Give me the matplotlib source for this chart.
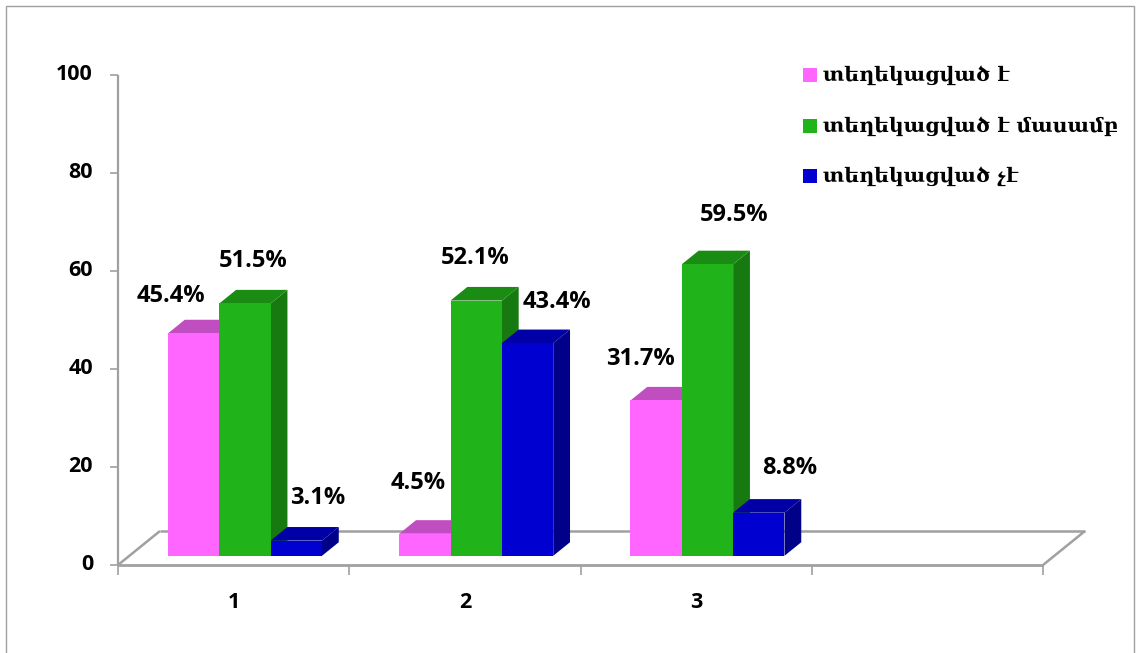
import matplotlib
matplotlib.use("Agg")
import matplotlib.pyplot as plt
from matplotlib.patches import Polygon, Rectangle
from matplotlib.lines import Line2D

# ---- data ----
categories = ["1", "2", "3"]
series_names = ["տեղեկացված է", "տեղեկացված է մասամբ", "տեղեկացված չէ"]
informed = [45.4, 4.5, 31.7]
partly = [51.5, 52.1, 59.5]
not_informed = [3.1, 43.4, 8.8]
y_ticks = [0, 20, 40, 60, 80, 100]

series_values = [informed, partly, not_informed]

# ---- styling ----
W, H, DPI = 1136, 653, 100
front_cols = ["#FF66FF", "#20B41A", "#0000D0"]
top_cols = ["#C04EC0", "#1A8C14", "#0000A6"]
side_cols = ["#C04EC0", "#167A10", "#000088"]
grid_gray = "#A0A0A0"
n_slots = 4              # category slots on the axis (last one empty)
bar_w = 0.222            # bar width in category units
label_font = "Open Sans"

# label nudges in pixels (dx, dy) from the centre of each bar's front top
label_nudge = [
    [(-23, 37), (8, 42), (21, 43)],
    [(-7, 51), (-1, 43), (29, 41)],
    [(-16, 41), (27, 49), (31, 45)],
]

fig = plt.figure(figsize=(W / DPI, H / DPI), dpi=DPI)
fig.patch.set_facecolor("white")

# axes plane = front edge of the floor
ax_l, ax_r, ax_b, ax_t = 118, 1043, 565, 75
ax = fig.add_axes([ax_l / W, 1 - ax_b / H, (ax_r - ax_l) / W, (ax_b - ax_t) / H])
ax.set_xlim(0, n_slots)
ax.set_ylim(0, 100)
ax.axis("off")

PX = n_slots / (ax_r - ax_l)   # data units per pixel, x
PY = 100 / (ax_b - ax_t)       # data units per pixel, y
Dx, Dy = 42 * PX, 34 * PY      # floor depth
f0, f1 = 0.27, 0.67            # bar depth range (fraction of floor depth)

def line(xs, ys, lw=1.8, z=1):
    ax.add_line(Line2D(xs, ys, color=grid_gray, lw=lw, zorder=z,
                       clip_on=False, solid_capstyle="butt"))

# floor outline
line([Dx, n_slots + Dx], [Dy, Dy], z=1)
line([0, Dx], [0, Dy], z=1)
line([n_slots, n_slots + Dx], [0, Dy], z=1)
line([0, n_slots], [0, 0], lw=2.0, z=1)

# value axis
line([0, 0], [0, 100], lw=1.6, z=1)
for t in y_ticks:
    line([-8 * PX, 0], [t, t], lw=1.2, z=1)
    ax.text(-25 * PX, t, str(t), ha="right", va="center", fontsize=15.5,
            fontweight="bold", family=label_font, color="black")

# category axis ticks
for k in range(n_slots + 1):
    line([k, k], [0, -10 * PY], lw=1.2, z=1)
for k, c in enumerate(categories):
    ax.text(k + 0.5, -37 * PY, c, ha="center", va="center", fontsize=15.5,
            fontweight="bold", family=label_font, color="black")

# 3D bars
base = f0 * Dy
bdx, bdy = (f1 - f0) * Dx, (f1 - f0) * Dy
z = 3
for k in range(len(categories)):
    for s, vals in enumerate(series_values):
        v = vals[k]
        xl = k + 0.5 + (s - 1.5) * bar_w + f0 * Dx
        xr = xl + bar_w
        top = base + v
        side = Polygon([(xr, base), (xr + bdx, base + bdy),
                        (xr + bdx, top + bdy), (xr, top)],
                       closed=True, facecolor=side_cols[s], edgecolor="none",
                       zorder=z, clip_on=False)
        cap = Polygon([(xl, top), (xr, top), (xr + bdx, top + bdy),
                       (xl + bdx, top + bdy)],
                      closed=True, facecolor=top_cols[s], edgecolor="none",
                      zorder=z, clip_on=False)
        front = Rectangle((xl, base), bar_w, v, facecolor=front_cols[s],
                          edgecolor="none", zorder=z + 0.5, clip_on=False)
        ax.add_patch(side)
        ax.add_patch(cap)
        ax.add_patch(front)
        z += 1
        ndx, ndy = label_nudge[k][s]
        ax.text((xl + xr) / 2 + ndx * PX, top + ndy * PY, f"{v:.1f}%",
                ha="center", va="center", fontsize=17, fontweight="bold",
                family=label_font, color="black", zorder=50)

# legend
leg_y = [75, 126, 176]
for s, name in enumerate(series_names):
    yy = 1 - leg_y[s] / H
    fig.patches.append(Rectangle((803 / W, yy - 7 / H), 14 / W, 14 / H,
                                 transform=fig.transFigure,
                                 facecolor=front_cols[s], edgecolor="none"))
    fig.text(823 / W, yy, name, ha="left", va="center", fontsize=14.7,
             fontweight="bold", family=["DejaVu Serif", "DejaVu Sans"],
             color="black")

# chart border (runs off the bottom edge)
fig.patches.append(Rectangle((5.5 / W, -10 / H), 1128.5 / W, (H - 6 + 10) / H,
                             transform=fig.transFigure, facecolor="none",
                             edgecolor=grid_gray, lw=1.0))

fig.savefig("out.png", dpi=DPI, facecolor="white")
